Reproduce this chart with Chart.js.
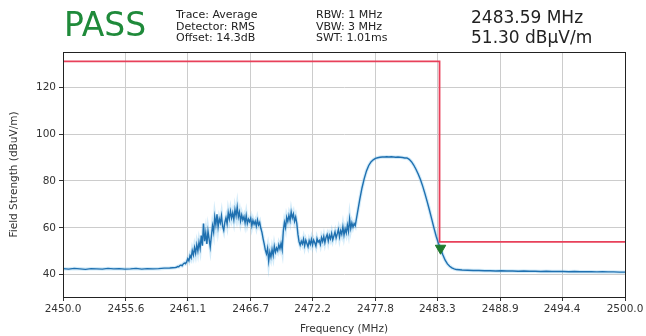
<!DOCTYPE html>
<html>
<head>
<meta charset="utf-8">
<script src="https://cdn.jsdelivr.net/npm/chart.js@4/dist/chart.umd.min.js"></script>
<style>
  body { margin: 0; background: #fff; font-family: "DejaVu Sans", sans-serif; }
  #wrap { position: relative; width: 646px; height: 336px; }
  #chart { position: absolute; left: 0; top: 0; }
  .hdr { position: absolute; color: #222; white-space: pre; }
  #pass { left: 64px; top: 5px; font-size: 33px; color: #1f8a3a; }
  .small { font-size: 11px; line-height: 11.5px; }
  .big { font-size: 17px; line-height: 20px; }
</style>
</head>
<body>
<div id="wrap">
  <canvas id="chart" width="646" height="336"></canvas>
  <div class="hdr" id="pass">PASS</div>
  <div class="hdr small" style="left:176px; top:9px;">Trace: Average
Detector: RMS
Offset: 14.3dB</div>
  <div class="hdr small" style="left:316px; top:9px;">RBW: 1 MHz
VBW: 3 MHz
SWT: 1.01ms</div>
  <div class="hdr big" style="left:471px; top:7px;">2483.59 MHz
51.30 dBµV/m</div>
</div>
<script>
// frequency axis ticks (MHz)
const freqTicks = [2450.0, 2455.6, 2461.1, 2466.7, 2472.2, 2477.8, 2483.3, 2488.9, 2494.4, 2500.0];
const levelTicks = [40, 60, 80, 100, 120];

// trace, in segments with their own sweep step (MHz)
const baseStart = 2450.0, baseStep = 0.5;
const baseLevels = [42.6, 42.4, 42.7, 42.5, 42.3, 42.6, 42.5, 42.4, 42.7, 42.5, 42.6,
  42.4, 42.5, 42.7, 42.4, 42.6, 42.5, 42.6, 42.8, 42.9, 43.1];

const noiseStart = 2460.1, noiseStep = 0.1;
const noiseLevels = [
  43.2, 43.5, 43.4, 43.9, 44.1, 43.8, 44.6, 45.0, 44.7, 45.5,
  46.8, 45.9, 48.2, 47.1, 50.3, 48.4, 51.6, 49.2, 52.8, 50.1,
  53.9, 51.2, 56.7, 52.4, 61.8, 54.3, 57.9, 53.1, 58.6, 55.2,
  51.8, 56.4, 60.9, 58.2, 64.7, 61.3, 65.8, 60.4, 63.9, 62.1,
  65.2, 60.6, 58.9, 62.4, 64.3, 61.7, 66.5, 63.8, 67.1, 64.2,
  66.4, 63.5, 67.8, 65.1, 68.9, 64.6, 66.7, 62.9, 65.5, 63.4,
  64.8, 62.1, 65.3, 61.8, 63.7, 62.6, 64.1, 60.9, 63.2, 61.5,
  62.8, 60.7, 63.4, 61.2, 62.3, 59.8, 58.1, 55.4, 53.2, 50.6,
  48.9, 51.3, 45.8, 49.7, 47.5, 50.8, 48.2, 52.1, 49.6, 51.4,
  50.2, 52.8, 51.1, 53.4, 50.7, 58.6, 62.3, 60.1, 64.5, 62.7,
  65.3, 63.1, 66.8, 64.2, 65.9, 62.8, 64.6, 61.9, 57.3, 54.1,
  52.6, 54.3, 53.1, 55.2, 52.4, 54.7, 53.3, 51.9, 54.5, 53.0,
  55.1, 52.7, 54.8, 53.6, 52.2, 55.4, 53.9, 54.6, 52.9, 55.8,
  54.2, 56.3, 53.7, 55.9, 57.1, 54.4, 56.8, 55.3, 57.6, 54.9,
  56.5, 58.2, 55.7, 57.4, 59.3, 56.1, 58.8, 57.2, 60.4, 56.9,
  59.6, 57.8, 61.2, 58.5, 63.8, 59.7, 62.1, 60.3, 61.8, 60.9
];

const edgeStart = 2476.2, edgeStep = 0.2;
const edgeLevels = [
  66.5, 72.0, 77.0, 81.0, 84.3, 86.6, 88.1, 89.0, 89.6, 89.9,
  90.1, 90.2, 90.2, 90.3, 90.2, 90.3, 90.2, 90.1, 90.2, 90.1,
  90.0, 89.8, 89.8, 89.2, 88.2, 86.8, 85.0, 83.0, 80.6, 77.8,
  74.6, 71.2, 67.6, 63.8, 60.0, 56.4, 53.4, 51.2, 48.4, 46.2,
  44.6, 43.6, 42.9, 42.5, 42.2
];

const tailStart = 2485.5, tailStep = 0.5;
const tailLevels = [42.0, 41.9, 41.8, 41.8, 41.7, 41.7, 41.6, 41.7, 41.6, 41.6,
  41.5, 41.6, 41.5, 41.5, 41.4, 41.5, 41.4, 41.4, 41.4, 41.3,
  41.4, 41.3, 41.3, 41.3, 41.2, 41.3, 41.2, 41.2, 41.1, 41.1];

// limit line
const limitFreqs = [2450.0, 2483.5, 2483.5, 2500.0];
const limitLevels = [131, 131, 54, 54];

// marker
const markerFreq = [2483.59];
const markerLevel = [51.30];

function seg(start, step, arr) {
  return arr.map((v, i) => ({ x: +(start + i * step).toFixed(2), y: v }));
}
const trace = [].concat(
  seg(baseStart, baseStep, baseLevels),
  seg(noiseStart, noiseStep, noiseLevels),
  seg(edgeStart, edgeStep, edgeLevels),
  seg(tailStart, tailStep, tailLevels)
);
const limit = limitFreqs.map((f, i) => ({ x: f, y: limitLevels[i] }));
const marker = markerFreq.map((f, i) => ({ x: f, y: markerLevel[i] }));

// black frame round the plot, like matplotlib
const frame = {
  id: "frame",
  afterDraw(chart) {
    const a = chart.chartArea, c = chart.ctx;
    c.save();
    c.strokeStyle = "#222";
    c.lineWidth = 1;
    c.strokeRect(a.left + 0.5, a.top + 0.5, a.right - a.left, a.bottom - a.top);
    c.restore();
  }
};

new Chart(document.getElementById("chart"), {
  type: "line",
  data: {
    datasets: [
      { data: marker, type: "scatter", pointStyle: "triangle", rotation: 180, pointRadius: 6,
        backgroundColor: "#1f7a2e", borderColor: "#1f7a2e", order: 0 },
      { data: limit, borderColor: "#e8405a", borderWidth: 1.8, pointRadius: 0, order: 1 },
      { data: trace, borderColor: "#1f70b0", borderWidth: 1.4, pointRadius: 0, order: 2 },
      { data: trace, borderColor: "rgba(110,190,235,0.3)", borderWidth: 3.5, pointRadius: 0, order: 3 }
    ]
  },
  options: {
    responsive: false,
    animation: false,
    layout: { padding: { top: 52, right: 21, left: 0, bottom: 0 } },
    plugins: { legend: { display: false }, tooltip: { enabled: false } },
    scales: {
      x: {
        type: "linear", min: 2450, max: 2500,
        afterBuildTicks: s => { s.ticks = freqTicks.map(v => ({ value: v })); },
        afterFit: s => { s.height = 39; },
        ticks: { color: "#333", font: { family: "DejaVu Sans", size: 10.5 }, maxRotation: 0, padding: 2,
          callback: v => v.toFixed(1) },
        grid: { color: "#cccccc", tickColor: "#333", tickLength: 4 },
        border: { color: "#222" },
        title: { display: true, text: "Frequency (MHz)", color: "#333", padding: 0,
          font: { family: "DejaVu Sans", size: 10.5 } }
      },
      y: {
        min: 30.5, max: 135,
        afterBuildTicks: s => { s.ticks = levelTicks.map(v => ({ value: v })); },
        afterFit: s => { s.width = 63; },
        ticks: { color: "#333", font: { family: "DejaVu Sans", size: 10.5 }, padding: 3 },
        grid: { color: "#cccccc", tickColor: "#333", tickLength: 4 },
        border: { color: "#222" },
        title: { display: true, text: "Field Strength (dBuV/m)", color: "#333",
          padding: { top: 8, bottom: 2 },
          font: { family: "DejaVu Sans", size: 10.5 } }
      }
    }
  },
  plugins: [frame]
});
</script>
</body>
</html>
